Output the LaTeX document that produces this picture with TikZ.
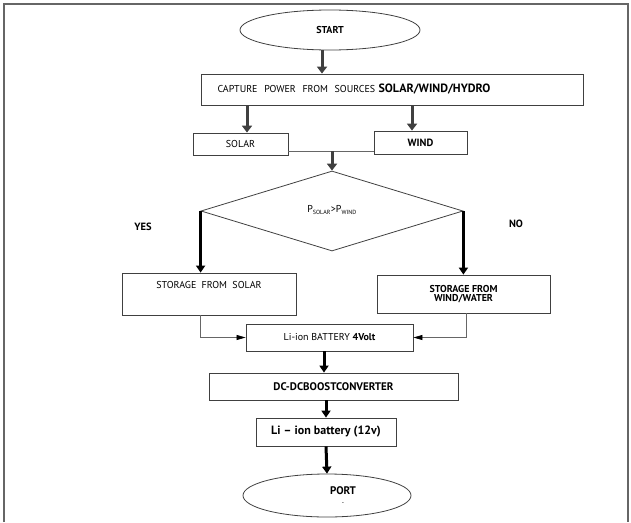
\documentclass[tikz,border=0pt]{standalone}
\usepackage{fontspec}
\setmainfont{PT Sans}
\usetikzlibrary{arrows.meta,positioning,shapes.geometric,calc}

\begin{document}
\begin{tikzpicture}[x=1pt, y=-1pt,
  stepbox/.style={draw=black!75, line width=0.8pt, inner sep=0pt, align=center,
    font=\fontsize{10}{10}\selectfont},
  termnode/.style={ellipse, draw=black!75, line width=0.8pt, inner sep=0pt,
    align=center, font=\fontsize{10}{10}\selectfont\bfseries},
  decnode/.style={diamond, draw=black!75, line width=0.8pt, inner sep=0pt},
  flowgray/.style={-{Triangle[width=10pt,length=7pt]}, line width=3pt, black!75},
  flowblack/.style={-{Triangle[width=9pt,length=7pt]}, line width=2.4pt, black},
  feed/.style={-{Triangle[width=5pt,length=9pt,color=black]}, line width=0.7pt, black!60},
  answer/.style={font=\fontsize{10.5}{10.5}\selectfont\bfseries}]

\useasboundingbox (0,0) rectangle (631,522);
\draw[black!60, line width=1.2pt] (4,522) -- (4,4) -- (628,4) -- (628,522);

% --- Start and capture ---
\node[termnode, minimum width=180pt, minimum height=40pt] (start) at (330,30) {START};
\node[stepbox, minimum height=31pt, text width=350pt, align=left, inner xsep=16pt]
  (cap) at (392.5,89.5) {%
  CAPTURE\ \ POWER\ \ FROM\ \ SOURCES
  {\fontsize{12}{12}\selectfont\bfseries SOLAR/WIND/HYDRO}};
\draw[flowgray] ([xshift=-8pt]start.south) -- ([xshift=-8pt]start.south |- cap.north);

% --- Sources ---
\node[stepbox, minimum width=95pt, minimum height=22pt] (sol) at (240.5,144) {SOLAR};
\node[stepbox, minimum width=93pt, minimum height=23pt, font=\fontsize{10.5}{10.5}\selectfont\bfseries]
  (wind) at (420.5,142.5) {WIND};
\draw[flowgray] ([xshift=6.5pt]sol.north |- cap.south) -- ([xshift=6.5pt]sol.north);
\draw[flowgray] ([xshift=-8.5pt]wind.north |- cap.south) -- ([xshift=-8.5pt]wind.north);

% --- Decision ---
\node[decnode, minimum width=262pt, minimum height=80pt] (dec) at (332,211) {%
  \raisebox{4pt}{P\textsubscript{\fontsize{6}{6}\selectfont SOLAR}>P\textsubscript{\fontsize{6}{6}\selectfont WIND}}};
\coordinate (jn) at (332,151);
\draw[black!60, line width=0.8pt] (sol.east |- jn) -- (wind.west |- jn);
\draw[flowgray] (jn) -- (dec.north);
\node[answer] (yes) at (143,227) {YES};
\node[answer] (no) at (516,224) {NO};

% --- Storage ---
\node[stepbox, minimum width=174pt, minimum height=42pt, text height=9pt, text depth=20pt]
  (ssol) at (209,294) {STORAGE\ \ FROM\ \ SOLAR};
\node[stepbox, minimum width=173pt, minimum height=38pt, font=\fontsize{10}{9.5}\selectfont\bfseries]
  (swind) at (463.5,294) {STORAGE FROM\\WIND/WATER};
\draw[flowblack] (dec.west) -- (dec.west |- ssol.north);
\draw[flowblack] (dec.east) -- (dec.east |- swind.north);

% --- Battery chain ---
\node[stepbox, minimum width=167pt, minimum height=27pt] (bat4) at (329.5,337.5)
  {Li-ion BATTERY \textbf{4Volt}};
\draw[feed] (dec.west |- ssol.south) |- (bat4.west);
\draw[feed] ([xshift=3pt]swind.south) |- (bat4.east);

\node[stepbox, minimum width=249pt, minimum height=27pt, font=\fontsize{11}{11}\selectfont\bfseries]
  (boost) at (333.5,386.5) {DC-DCBOOSTCONVERTER};
\node[stepbox, minimum width=140pt, minimum height=28pt, font=\fontsize{12}{12}\selectfont\bfseries]
  (bat12) at (326,432) {Li -- ion battery (12v)};
\node[termnode, minimum width=168pt, minimum height=43pt, font=\fontsize{11}{11}\selectfont\bfseries]
  (port) at (327,495.5)
  {\hspace*{32pt}PORT\\[-1pt]\hspace*{32pt}{\fontsize{5}{5}\selectfont -}};

\draw[flowblack, line width=3pt] ([xshift=-5.5pt]bat4.south) -- ([xshift=-5.5pt]bat4.south |- boost.north);
\draw[flowblack, line width=3pt] (bat12.north |- boost.south) -- (bat12.north);
\draw[flowblack, line width=3pt] (bat12.south) -- (port.north);

\end{tikzpicture}
\end{document}
